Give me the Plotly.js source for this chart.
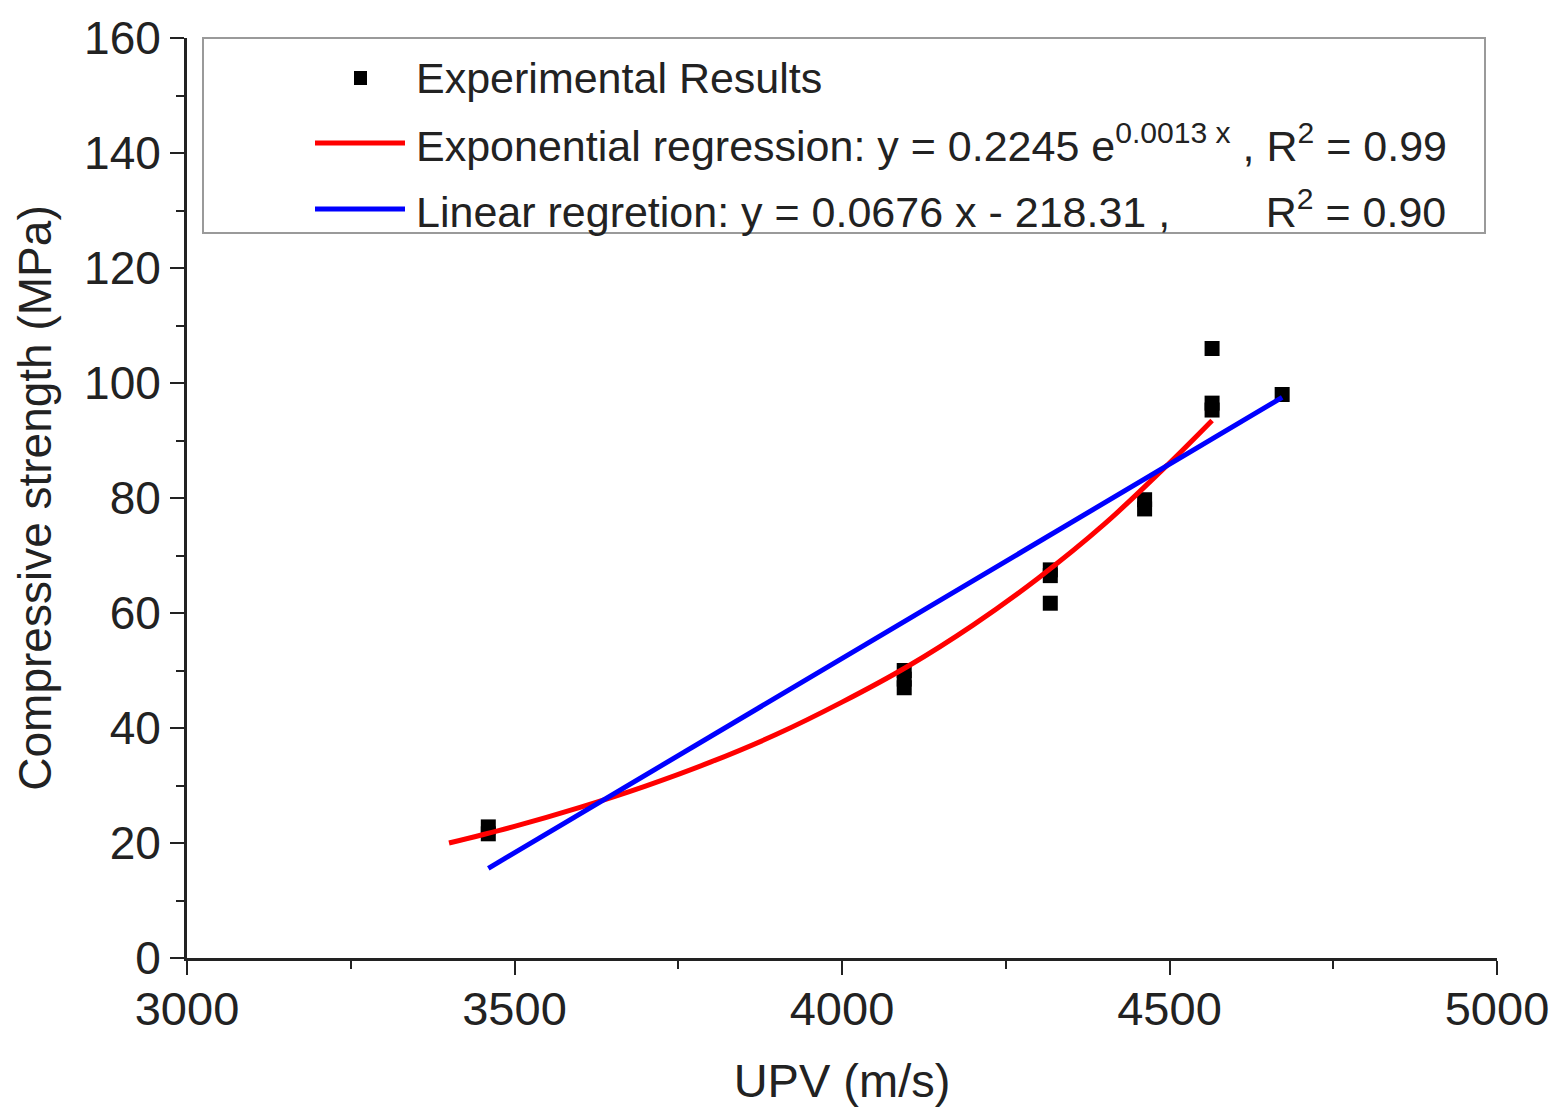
<!DOCTYPE html>
<html>
<head>
<meta charset="utf-8">
<script src="https://cdn.plot.ly/plotly-3.0.1.min.js"></script>
<style>html,body{margin:0;padding:0;background:#fff;}#chart{width:1564px;height:1118px;}</style>
</head>
<body>
<div id="chart"></div>
<script>
// Experimental results (UPV m/s, compressive strength MPa)
const expUPV = [3460, 3460, 4095, 4095, 4095, 4318, 4318, 4318, 4462, 4462, 4565, 4565, 4565, 4672];
const expStrength = [22.8, 21.6, 50, 48.5, 47, 67.5, 66.5, 61.7, 79.7, 78.1, 106, 96.5, 95.3, 98];

// Exponential regression curve as drawn
const expCurveX = [3400, 3500, 3600, 3700, 3800, 3900, 4000, 4100, 4200, 4300, 4400, 4500, 4565];
const expCurveY = [20, 22.9, 26.2, 29.9, 34.1, 38.9, 44.5, 50.7, 57.9, 66.1, 75.4, 86.1, 93.5];

// Linear regression line as drawn
const linX = [3460, 4672];
const linY = [15.6, 97.5];

const nb = '\u00A0';
const names = [
  'Experimental Results',
  'Exponential regression: y = 0.2245 e<sup>0.0013 x</sup> , R<sup>2</sup> = 0.99',
  'Linear regretion: y = 0.0676 x - 218.31 ,' + nb.repeat(8) + 'R<sup>2</sup> = 0.90'
];
const colors = ['#000000', '#ff0000', '#0000ff'];

const font = 'Liberation Sans, Arial, Helvetica, sans-serif';
const W = 1564, H = 1118;
const M = {l: 187, r: 67, t: 38, b: 160};
const pw = W - M.l - M.r, ph = H - M.t - M.b;
// pixel -> paper helpers (layout only)
const px = v => (v - M.l) / pw;
const py = v => (H - M.b - v) / ph;

const traces = [
  {x: expUPV, y: expStrength, mode: 'markers', type: 'scatter', name: names[0], showlegend: false,
   marker: {symbol: 'square', size: 15, color: colors[0]}},
  {x: expCurveX, y: expCurveY, mode: 'lines', type: 'scatter', name: names[1], showlegend: false,
   line: {color: colors[1], width: 5, shape: 'spline'}},
  {x: linX, y: linY, mode: 'lines', type: 'scatter', name: names[2], showlegend: false,
   line: {color: colors[2], width: 5}}
];

// legend drawn with shapes + annotations
const rowY = [78, 143, 209];
const shapes = [
  {type: 'rect', xref: 'paper', yref: 'paper', x0: px(203), x1: px(1485), y0: py(233), y1: py(38),
   line: {color: '#9a9a9a', width: 2}, fillcolor: '#ffffff', layer: 'above'},
  {type: 'rect', xref: 'paper', yref: 'paper', x0: px(354), x1: px(367), y0: py(rowY[0] + 7), y1: py(rowY[0] - 7),
   line: {width: 0}, fillcolor: colors[0], layer: 'above'},
  {type: 'line', xref: 'paper', yref: 'paper', x0: px(315), x1: px(405), y0: py(rowY[1]), y1: py(rowY[1]),
   line: {color: colors[1], width: 5}, layer: 'above'},
  {type: 'line', xref: 'paper', yref: 'paper', x0: px(315), x1: px(405), y0: py(rowY[2]), y1: py(rowY[2]),
   line: {color: colors[2], width: 5}, layer: 'above'}
];
const annotations = names.map((t, i) => ({
  text: t, xref: 'paper', yref: 'paper', x: px(414), y: py(rowY[i]),
  xanchor: 'left', yanchor: 'middle', showarrow: false,
  font: {family: font, size: 43, color: '#222'}
}));

const layout = {
  width: W, height: H,
  margin: M,
  paper_bgcolor: '#fff', plot_bgcolor: '#fff',
  font: {family: font, color: '#222', size: 46},
  showlegend: false,
  shapes: shapes,
  annotations: annotations,
  xaxis: {range: [3000, 5000], tickvals: [3000, 3500, 4000, 4500, 5000],
    ticks: 'outside', ticklen: 14, tickwidth: 2, tickcolor: '#222',
    minor: {dtick: 250, ticks: 'outside', ticklen: 8, tickwidth: 2, tickcolor: '#222', showgrid: false},
    showline: true, linecolor: '#222', linewidth: 3, showgrid: false, zeroline: false,
    ticklabelstandoff: -6,
    tickfont: {size: 47}, title: {text: 'UPV (m/s)', font: {size: 47}, standoff: 30}},
  yaxis: {range: [0, 160], dtick: 20, tick0: 0,
    ticks: 'outside', ticklen: 14, tickwidth: 2, tickcolor: '#222',
    minor: {dtick: 10, ticks: 'outside', ticklen: 8, tickwidth: 2, tickcolor: '#222', showgrid: false},
    showline: true, linecolor: '#222', linewidth: 3, showgrid: false, zeroline: false,
    tickfont: {size: 46}, title: {text: 'Compressive strength (MPa)', font: {size: 46}, standoff: 18}}
};

Plotly.newPlot('chart', traces, layout, {displayModeBar: false, staticPlot: true});
</script>
</body>
</html>
